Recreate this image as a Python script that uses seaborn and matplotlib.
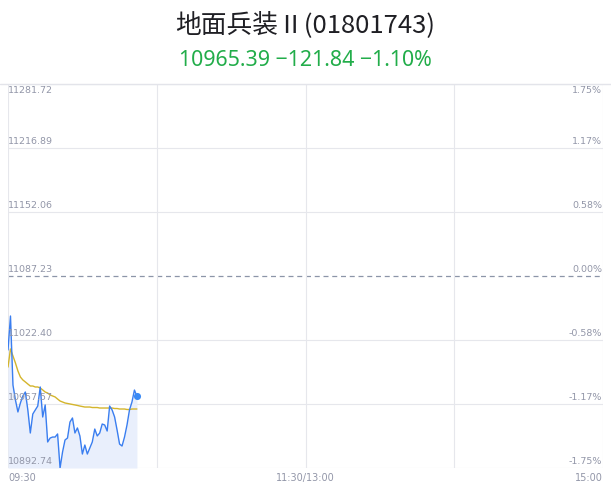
import matplotlib
matplotlib.use("Agg")
import numpy as np
import pandas as pd
import seaborn as sns
import matplotlib.pyplot as plt
from matplotlib.lines import Line2D
import matplotlib.transforms as mtransforms

# ---------------- data ----------------
title = "地面兵装Ⅱ(01801743)"
subtitle = "10965.39 −121.84 −1.10%"
prev_close = 11087.23

price = [11012.3, 11046.7, 10976.8, 10961.6, 10949.5, 10958.6, 10965.7, 10969.7,
         10951.5, 10928.2, 10947.4, 10951.5, 10955.5, 10974.8, 10944.4, 10956.6,
         10919.1, 10923.1, 10924.1, 10924.1, 10927.2, 10892.74, 10908.9, 10921.1,
         10923.1, 10939.3, 10943.4, 10928.2, 10933.3, 10925.2, 10906.9, 10916.0,
         10906.9, 10913.0, 10919.1, 10932.2, 10925.2, 10928.2, 10937.3, 10936.3,
         10930.2, 10955.5, 10951.5, 10944.4, 10931.2, 10917.0, 10915.0, 10924.1,
         10936.3, 10951.5, 10959.6, 10971.7, 10965.39]

avg_price = [10995.0, 11013.3, 11006.2, 10999.1, 10991.0, 10984.9, 10981.9, 10979.9,
             10977.8, 10975.8, 10975.8, 10974.8, 10974.8, 10973.8, 10971.8, 10969.7,
             10968.7, 10966.7, 10965.7, 10964.7, 10962.6, 10960.6, 10959.6, 10958.6,
             10958.1, 10957.6, 10957.1, 10956.6, 10956.1, 10955.5, 10955.0, 10954.5,
             10954.5, 10954.5, 10954.0, 10954.0, 10954.0, 10953.5, 10953.5, 10953.5,
             10953.5, 10953.5, 10953.5, 10953.0, 10953.0, 10952.5, 10952.5, 10952.5,
             10952.0, 10952.0, 10952.5, 10952.5, 10952.5]

minutes = list(range(len(price)))

y_levels = [11281.72, 11216.89, 11152.06, 11087.23, 11022.40, 10957.57, 10892.74]
y_labels = ["11281.72", "11216.89", "11152.06", "11087.23", "11022.40", "10957.57", "10892.74"]
pct_labels = ["1.75%", "1.17%", "0.58%", "0.00%", "-0.58%", "-1.17%", "-1.75%"]
x_ticks = [0, 60, 120, 180, 240]
x_labels = ["09:30", "11:30/13:00", "15:00"]
x_label_pos = [0, 120, 240]

# ---------------- style ----------------
sns.set_theme(style="white")
plt.rcParams['font.family'] = ['Noto Sans CJK SC', 'DejaVu Sans']

W, H = 611, 492
fig = plt.figure(figsize=(W / 100, H / 100), dpi=100)
ax = fig.add_axes([8 / W, 24 / H, 595 / W, 384 / H])

grid_c = "#e6e7ec"
lab_c = "#9296a8"

df = pd.DataFrame({"minute": minutes, "price": price, "avg": avg_price})

ax.fill_between(df["minute"], df["price"], y_levels[-1], color="#e9effc", lw=0, zorder=1)
sns.lineplot(data=df, x="minute", y="price", ax=ax, color="#3a7ef0", lw=1.0, zorder=3)
sns.lineplot(data=df, x="minute", y="avg", ax=ax, color="#d4b52c", lw=1.0, zorder=2)
ax.scatter([minutes[-1]], [price[-1]], s=26, color="#3a8af5", zorder=4, lw=0)

ax.set_xlim(0, 240)
ax.set_ylim(y_levels[-1], y_levels[0])

# grid
for lv in y_levels:
    if abs(lv - prev_close) < 1e-6:
        ax.axhline(lv, color="#8c95a8", lw=0.9, ls=(0, (4, 3)), zorder=0.5)
    else:
        ax.axhline(lv, color=grid_c, lw=0.8, zorder=0.5)
for xt in x_ticks:
    ax.axvline(xt, color=grid_c, lw=0.8, zorder=0.5)

ax.set_xticks([])
ax.set_yticks([])
for s in ax.spines.values():
    s.set_visible(False)
ax.set_xlabel("")
ax.set_ylabel("")

# y labels
for i, (lv, lab, pl) in enumerate(zip(y_levels, y_labels, pct_labels)):
    top = (i == 0)
    dy = -1.2 if top else 1.2
    va = "top" if top else "bottom"
    off = mtransforms.offset_copy(ax.transData, fig=fig, x=0.3, y=dy, units="points")
    ax.text(0, lv, lab, transform=off, ha="left", va=va, fontsize=6.8,
            color=lab_c, family=["DejaVu Sans"], zorder=5)
    off2 = mtransforms.offset_copy(ax.transData, fig=fig, x=-0.5, y=dy, units="points")
    ax.text(240, lv, pl, transform=off2, ha="right", va=va, fontsize=6.8,
            color=lab_c, family=["DejaVu Sans"], zorder=5)

# x labels
has = ["left", "center", "right"]
for xp, lab, ha in zip(x_label_pos, x_labels, has):
    ax.text(xp, y_levels[-1], lab, ha=ha, va="top", fontsize=7, color=lab_c,
            family=["DejaVu Sans"],
            transform=mtransforms.offset_copy(ax.transData, fig=fig, x=0, y=-3.5, units="points"))

# top border line
fig.add_artist(Line2D([0, 1], [1 - 83.5 / H, 1 - 83.5 / H], color="#e3e4ea", lw=1.0))

fig.text(0.5, 1 - 25 / H, title, ha="center", va="center", fontsize=18.5, color="#1f1f24",
         fontweight="medium", family=['Noto Sans CJK SC', 'DejaVu Sans'])
fig.text(0.5, 1 - 60 / H, subtitle, ha="center", va="center", fontsize=15.4, color="#22ad4a",
         family=['Noto Sans', 'DejaVu Sans'])

fig.savefig("out.png", dpi=100)
